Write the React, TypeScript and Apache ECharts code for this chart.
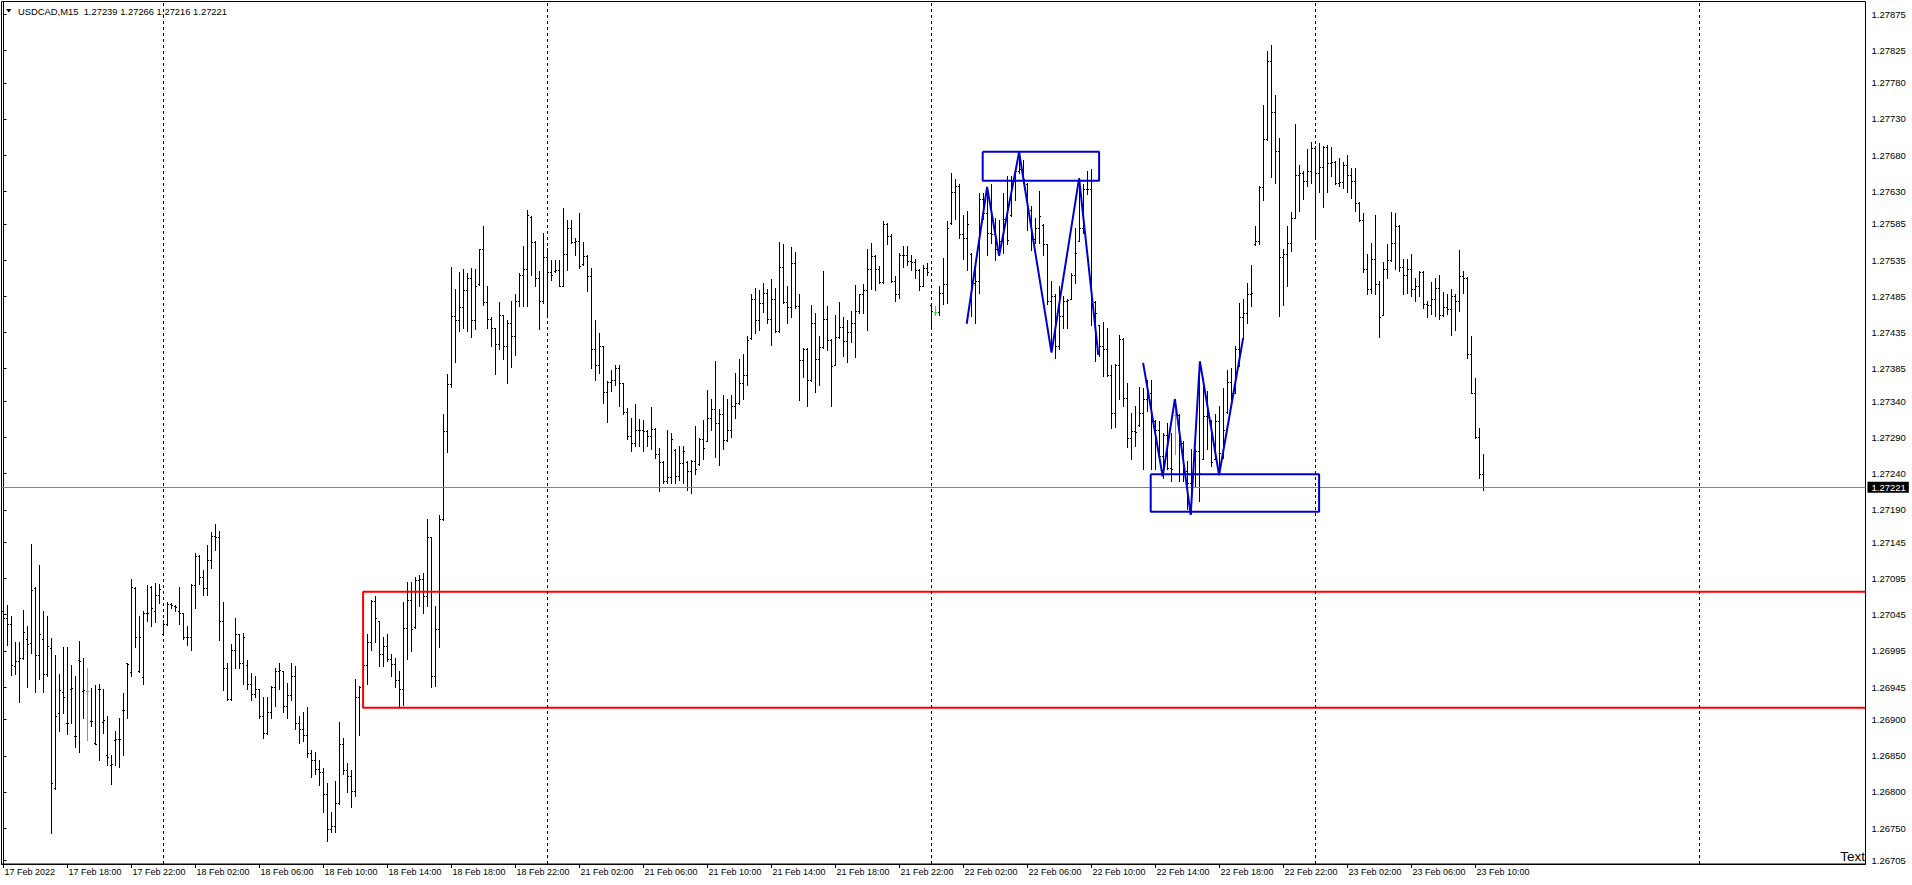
import React, { useEffect, useRef } from 'react';
import * as echarts from 'echarts';

// ---- data (prices in points: 1 point = 0.00001) ----
const symbol = 'USDCAD,M15';

const openPts = [
  127050,127040,127031,126974,126980,126984,127011,127005,127081,126988,
  127011,126963,126998,126805,126908,126938,126895,126942,126876,126982,
  126939,126939,126897,126867,126942,126896,126850,126837,126871,126873,
  126912,126977,126965,127081,126966,126958,127047,127083,127049,127072,
  127018,127031,127059,127057,127049,127046,127014,127013,127086,127126,
  127096,127081,127120,127153,127151,127035,126971,126928,126996,127017,
  126977,126975,126949,126935,126941,126904,126881,126910,126944,126967,
  126966,126918,126933,126960,126894,126887,126878,126853,126844,126831,
  126827,126797,126748,126753,126784,126866,126830,126821,126801,126930,
  126945,126975,127007,127063,127035,126990,127001,126983,126976,126954,
  126941,127026,127065,127027,127092,127093,127070,127151,126960,127025,
  127176,127298,127363,127457,127452,127469,127493,127510,127452,127501,
  127549,127476,127453,127440,127418,127458,127415,127448,127429,127478,
  127514,127522,127594,127559,127510,127478,127539,127518,127519,127520,
  127499,127543,127579,127559,127560,127529,127540,127512,127411,127389,
  127415,127352,127366,127369,127385,127364,127325,127291,127281,127300,
  127299,127298,127291,127301,127266,127255,127229,127235,127272,127236,
  127254,127255,127243,127256,127252,127287,127285,127316,127328,127309,
  127321,127286,127300,127332,127337,127364,127376,127426,127481,127451,
  127475,127489,127453,127481,127436,127525,127476,127470,127530,127471,
  127396,127412,127368,127447,127398,127414,127453,127424,127390,127428,
  127442,127422,127435,127448,127464,127487,127493,127522,127540,127522,
  127504,127584,127568,127505,127487,127542,127541,127533,127532,127520,
  127499,127524,127472,127463,127463,127489,127501,127585,127628,127637,
  127570,127565,127543,127503,127505,127619,127600,127572,127571,127549,
  127560,127591,127596,127643,127657,127660,127640,127603,127564,127579,
  127583,127556,127478,127484,127415,127457,127478,127481,127514,127561,
  127579,127633,127632,127477,127444,127416,127411,127376,127323,127390,
  127425,127344,127289,127298,127306,127323,127343,127350,127312,127300,
  127263,127293,127247,127320,127320,127282,127243,127226,127240,127270,
  127260,127319,127313,127260,127312,127268,127324,127366,127351,127411,
  127455,127461,127488,127556,127560,127635,127701,127809,127739,127685,
  127539,127543,127558,127593,127652,127655,127643,127657,127689,127655,
  127663,127691,127669,127670,127641,127642,127665,127652,127643,127613,
  127589,127522,127494,127536,127501,127459,127522,127535,127558,127582,
  127525,127514,127522,127494,127499,127518,127473,127472,127480,127496,
  127458,127470,127467,127484,127478,127512,127510,127404,127351,127290,
  127239,
];

const highPts = [
  127060,127058,127042,127007,127007,127051,127029,127142,127082,127113,
  127050,127042,127012,126989,126963,127000,127000,126975,126960,127008,
  126984,126970,126943,126947,126949,126942,126904,126850,126884,126902,
  126936,126978,127094,127082,127043,127050,127086,127084,127088,127087,
  127037,127062,127060,127058,127082,127047,127029,127087,127130,127127,
  127106,127140,127158,127169,127160,127062,126977,127004,127040,127018,
  127019,126982,126964,126959,126942,126931,126930,126946,126970,126977,
  126967,126950,126977,126973,126904,126910,126917,126858,126855,126844,
  126832,126812,126772,126814,126896,126874,126839,126830,126956,126946,
  126993,127017,127065,127070,127036,127013,127017,126990,126984,126967,
  127062,127090,127089,127096,127099,127102,127176,127152,127057,127182,
  127322,127377,127525,127495,127518,127522,127516,127523,127522,127550,
  127582,127498,127456,127441,127476,127459,127452,127478,127487,127516,
  127554,127603,127595,127560,127519,127572,127551,127534,127534,127535,
  127606,127589,127590,127565,127600,127559,127541,127524,127451,127433,
  127416,127367,127383,127389,127389,127365,127330,127316,127335,127315,
  127314,127300,127331,127302,127275,127256,127300,127295,127273,127277,
  127277,127256,127258,127305,127289,127314,127355,127343,127395,127328,
  127348,127342,127348,127378,127398,127405,127430,127487,127496,127493,
  127502,127495,127508,127496,127559,127557,127498,127552,127546,127488,
  127413,127413,127472,127461,127429,127519,127471,127425,127458,127476,
  127455,127452,127464,127500,127488,127501,127549,127558,127541,127526,
  127588,127585,127570,127512,127544,127554,127554,127541,127536,127522,
  127527,127530,127473,127471,127498,127537,127588,127654,127647,127639,
  127597,127602,127544,127528,127627,127627,127633,127640,127593,127590,
  127627,127650,127650,127662,127683,127673,127641,127609,127593,127630,
  127584,127557,127505,127487,127498,127484,127480,127517,127579,127648,
  127639,127657,127660,127478,127445,127449,127441,127390,127391,127431,
  127426,127365,127323,127332,127359,127358,127369,127368,127314,127312,
  127296,127309,127296,127343,127322,127284,127256,127273,127273,127385,
  127372,127353,127314,127321,127332,127358,127383,127385,127415,127475,
  127481,127503,127528,127581,127636,127748,127823,127831,127763,127703,
  127550,127581,127601,127723,127665,127657,127688,127697,127692,127696,
  127692,127694,127691,127671,127676,127670,127679,127662,127662,127614,
  127599,127543,127558,127597,127505,127531,127556,127601,127599,127583,
  127536,127536,127543,127510,127519,127519,127478,127504,127510,127513,
  127490,127487,127495,127487,127548,127519,127511,127429,127372,127302,
  127266,
];

const lowPts = [
  127014,127002,126961,126962,126924,126983,126944,126991,126938,126956,
  126937,126959,126743,126804,126884,126909,126880,126894,126862,126855,
  126901,126871,126891,126865,126843,126881,126837,126811,126837,126834,
  126851,126902,126959,127000,126965,126948,127036,127029,127034,127060,
  127016,127030,127054,127049,127031,127011,127003,126995,127053,127087,
  127071,127071,127109,127134,127010,126940,126926,126927,126970,126970,
  126949,126941,126927,126930,126901,126874,126880,126901,126918,126941,
  126910,126901,126927,126887,126867,126870,126848,126820,126824,126809,
  126772,126732,126744,126744,126783,126824,126799,126778,126794,126878,
  126939,126948,126996,127006,126973,126973,126981,126960,126944,126918,
  126920,126983,126994,127026,127057,127046,127057,126944,126946,126999,
  127175,127269,127359,127393,127436,127441,127436,127428,127439,127500,
  127472,127441,127416,127377,127412,127397,127365,127387,127403,127471,
  127471,127471,127513,127498,127439,127475,127459,127507,127518,127498,
  127498,127520,127558,127541,127524,127528,127491,127385,127369,127378,
  127337,127310,127354,127362,127332,127321,127287,127270,127277,127278,
  127270,127277,127273,127261,127215,127226,127226,127226,127226,127231,
  127226,127216,127213,127239,127251,127259,127284,127300,127262,127251,
  127273,127284,127290,127316,127336,127343,127361,127425,127433,127437,
  127462,127447,127417,127435,127435,127475,127448,127456,127468,127341,
  127373,127332,127367,127352,127362,127413,127410,127332,127389,127426,
  127402,127393,127421,127401,127461,127461,127438,127494,127493,127502,
  127503,127557,127504,127478,127482,127525,127528,127521,127510,127493,
  127498,127514,127441,127458,127459,127474,127475,127584,127591,127565,
  127536,127520,127457,127448,127489,127591,127542,127558,127535,127542,
  127544,127557,127595,127618,127655,127641,127576,127548,127558,127558,
  127542,127473,127415,127399,127411,127441,127441,127480,127502,127560,
  127572,127625,127445,127395,127402,127374,127374,127302,127304,127342,
  127333,127276,127260,127277,127305,127246,127326,127245,127245,127259,
  127233,127245,127229,127266,127229,127229,127190,127185,127222,127201,
  127259,127273,127250,127259,127240,127261,127323,127342,127350,127388,
  127425,127447,127471,127555,127556,127617,127700,127649,127641,127457,
  127472,127499,127547,127592,127602,127619,127636,127641,127565,127628,
  127608,127628,127650,127640,127636,127634,127628,127620,127602,127588,
  127518,127487,127489,127487,127428,127458,127510,127533,127522,127519,
  127487,127489,127485,127478,127484,127468,127455,127460,127457,127453,
  127457,127460,127431,127438,127464,127489,127399,127350,127289,127233,
  127216,
];

const closePts = [
  127040,127031,126975,126980,126984,127020,127004,127079,126988,127017,
  126963,127001,126812,126904,126940,126930,126894,126943,126877,126981,
  126940,126939,126898,126866,126941,126899,126848,126838,126872,126872,
  126913,126976,127082,127014,127014,127047,127046,127053,127072,127080,
  127031,127059,127058,127055,127047,127014,127013,127086,127126,127096,
  127081,127120,127153,127151,127035,126971,126928,126996,127017,126977,
  127014,126949,126935,126941,126904,126881,126910,126944,126967,126968,
  126918,126933,126960,126894,126887,126878,126853,126844,126831,126827,
  126797,126748,126753,126784,126866,126830,126821,126801,126930,126945,
  126975,127007,127063,127040,126990,127001,126983,126976,126954,126941,
  127026,127065,127025,127092,127093,127070,127151,126960,127025,127176,
  127298,127363,127457,127452,127469,127493,127510,127452,127498,127549,
  127476,127453,127440,127418,127458,127415,127448,127429,127478,127514,
  127522,127597,127559,127510,127478,127539,127518,127513,127520,127499,
  127543,127579,127559,127560,127526,127540,127512,127411,127389,127415,
  127352,127366,127369,127385,127364,127325,127291,127281,127300,127299,
  127298,127291,127301,127266,127255,127229,127235,127287,127236,127254,
  127270,127243,127256,127246,127287,127275,127316,127328,127309,127321,
  127286,127300,127332,127337,127364,127376,127424,127481,127451,127475,
  127489,127453,127481,127436,127525,127476,127470,127530,127471,127396,
  127412,127368,127447,127398,127414,127453,127424,127388,127428,127442,
  127422,127435,127448,127464,127487,127493,127522,127540,127522,127504,
  127584,127568,127505,127487,127542,127541,127533,127532,127520,127499,
  127524,127518,127464,127463,127489,127501,127579,127628,127637,127570,
  127565,127584,127503,127505,127619,127600,127572,127571,127549,127560,
  127591,127562,127643,127657,127660,127646,127603,127564,127579,127595,
  127556,127478,127484,127415,127457,127478,127479,127514,127544,127579,
  127633,127632,127480,127461,127416,127411,127376,127323,127390,127425,
  127344,127289,127298,127297,127323,127343,127350,127312,127300,127263,
  127293,127247,127245,127320,127282,127243,127226,127240,127270,127240,
  127319,127318,127255,127312,127268,127300,127366,127351,127411,127455,
  127461,127488,127489,127560,127635,127701,127809,127739,127685,127539,
  127543,127558,127593,127652,127655,127643,127657,127689,127655,127663,
  127691,127669,127670,127641,127642,127665,127652,127643,127613,127589,
  127522,127494,127536,127501,127456,127522,127535,127558,127582,127525,
  127514,127522,127494,127499,127518,127473,127472,127480,127496,127458,
  127470,127467,127484,127478,127512,127510,127404,127351,127290,127239,
  127221,
];

// time axis: one slot per 15-minute bar (first bar = 17 Feb 2022 14:00), with empty slots to the right
const slotCount = 466;
const xTickBars = [0, 16, 32, 48, 64, 80, 96, 112, 128, 144, 160, 176, 192, 208, 224, 240, 256, 272, 288, 304, 320, 336, 352, 368];
const xTickLabels = [
  '17 Feb 2022', '17 Feb 18:00', '17 Feb 22:00', '18 Feb 02:00', '18 Feb 06:00', '18 Feb 10:00',
  '18 Feb 14:00', '18 Feb 18:00', '18 Feb 22:00', '21 Feb 02:00', '21 Feb 06:00', '21 Feb 10:00',
  '21 Feb 14:00', '21 Feb 18:00', '21 Feb 22:00', '22 Feb 02:00', '22 Feb 06:00', '22 Feb 10:00',
  '22 Feb 14:00', '22 Feb 18:00', '22 Feb 22:00', '23 Feb 02:00', '23 Feb 06:00', '23 Feb 10:00',
];
const dayGridBars = [40, 136, 232, 328, 424];

const priceTicks = [
  1.27875, 1.27825, 1.2778, 1.2773, 1.2768, 1.2763, 1.27585, 1.27535, 1.27485, 1.27435, 1.27385,
  1.2734, 1.2729, 1.2724, 1.2719, 1.27145, 1.27095, 1.27045, 1.26995, 1.26945, 1.269, 1.2685,
  1.268, 1.2675, 1.26705,
];
const priceMin = 1.267005;
const priceMax = 1.278923;

// drawn objects (bar index, price)
const redZone = [[465.5, 1.270767], [89.9, 1.270767], [89.9, 1.269164], [465.5, 1.269164]];
const blueBoxTop = [[244.8, 1.276847], [273.9, 1.276847], [273.9, 1.276446], [244.8, 1.276446], [244.8, 1.276847]];
const blueBoxBottom = [[286.8, 1.272389], [328.9, 1.272389], [328.9, 1.271873], [286.8, 1.271873], [286.8, 1.272389]];
const zigzagTop = [[240.8, 1.27447], [245.9, 1.27636], [248.9, 1.27541], [253.9, 1.27684], [262.0, 1.27407], [268.9, 1.27648], [273.7, 1.27404]];
const zigzagBottom = [[284.9, 1.27393], [289.8, 1.27236], [292.85, 1.27343], [296.8, 1.27183], [299.1, 1.27395], [303.9, 1.27238], [309.9, 1.27427]];

const FONT = '"Liberation Sans", Arial, sans-serif';
const BLUE = '#0000CD';

export default function App() {
  const ref = useRef<HTMLDivElement>(null);

  useEffect(() => {
    document.body.style.margin = '0';
    if (!ref.current) return;
    const chart = echarts.init(ref.current, undefined, { renderer: 'svg' });

    const barData = closePts.map((c, i) => [i, openPts[i] / 1e5, highPts[i] / 1e5, lowPts[i] / 1e5, c / 1e5]);
    const last = barData.length - 1;
    const lastClose = closePts[last] / 1e5;
    const fmt = (p: number) => (p / 1e5).toFixed(5);
    const titleText = `${symbol}  ${fmt(openPts[last])} ${fmt(highPts[last])} ${fmt(lowPts[last])} ${fmt(closePts[last])}`;

    const renderItem = (params: any, api: any) => {
      const k = api.value(0);
      const o = api.value(1);
      const h = api.value(2);
      const l = api.value(3);
      const c = api.value(4);
      const pH = api.coord([k, h]);
      const pL = api.coord([k, l]);
      const pO = api.coord([k, o]);
      const pC = api.coord([k, c]);
      const x = Math.round(pH[0] - 0.5) + 0.5;
      const yH = Math.floor(pH[1]);
      const yL = Math.floor(pL[1]) + 1;
      const yO = Math.floor(pO[1]) + 0.5;
      const yC = Math.floor(pC[1]) + 0.5;
      const color = o === c ? '#22DD22' : '#000000';
      const st = { stroke: color, lineWidth: 1 };
      return {
        type: 'group',
        children: [
          { type: 'line', shape: { x1: x, y1: yH, x2: x, y2: yL }, style: st },
          { type: 'line', shape: { x1: x - 1.5, y1: yO, x2: x - 0.5, y2: yO }, style: st },
          { type: 'line', shape: { x1: x + 0.5, y1: yC, x2: x + 1.5, y2: yC }, style: st },
        ],
      };
    };

    const option: any = {
      animation: false,
      backgroundColor: '#FFFFFF',
      grid: {
        left: 1.5, top: 1.5, width: 1864, height: 862.5,
        show: true, borderColor: '#000', borderWidth: 1, backgroundColor: 'transparent',
      },
      xAxis: {
        type: 'value', min: -0.5, max: slotCount - 0.5,
        axisLine: { show: true, onZero: false, lineStyle: { color: '#000', width: 1 } },
        axisTick: { show: true, customValues: xTickBars, length: 4, lineStyle: { color: '#000' } },
        axisLabel: {
          show: true, customValues: xTickBars,
          formatter: (v: number) => xTickLabels[xTickBars.indexOf(Math.round(v))] ?? '',
          align: 'left', color: '#000', fontSize: 9, fontFamily: FONT, margin: 3, padding: [0, 0, 0, 1],
        },
        splitLine: { show: false },
      },
      yAxis: {
        type: 'value', position: 'right', min: priceMin, max: priceMax, scale: true,
        axisLine: { show: true, lineStyle: { color: '#000', width: 1 } },
        axisTick: { show: true, customValues: priceTicks, length: 3, lineStyle: { color: '#000' } },
        axisLabel: {
          show: true, customValues: priceTicks, formatter: (v: number) => v.toFixed(5),
          color: '#000', fontSize: 9.5, fontFamily: FONT, margin: 6,
        },
        splitLine: { show: false },
      },
      graphic: [
        { type: 'polygon', shape: { points: [[6, 9], [11.5, 9], [8.75, 12.5]] }, style: { fill: '#000' }, z: 10 },
        {
          type: 'text', x: 18, y: 11, z: 10,
          style: { text: titleText, font: `9.4px ${FONT}`, fill: '#000', verticalAlign: 'middle', align: 'left' },
        },
        {
          type: 'text', x: 1865, y: 856, z: 10,
          style: { text: 'Text', font: `13.5px ${FONT}`, fill: '#000', verticalAlign: 'middle', align: 'right' },
        },
      ],
      series: [
        {
          type: 'line', data: [], z: 1, silent: true,
          markLine: {
            silent: true, symbol: ['none', 'none'], animation: false, precision: 6,
            label: { show: false },
            lineStyle: { color: '#000', width: 1, type: [3, 3] },
            data: dayGridBars.map((b) => ({ xAxis: b })),
          },
        },
        {
          type: 'custom', name: 'bars', z: 2, clip: true, silent: true,
          renderItem, encode: { x: 0, y: [1, 2, 3, 4] }, data: barData,
        },
        {
          type: 'line', data: [], z: 3, silent: true,
          markLine: {
            silent: true, symbol: ['none', 'none'], animation: false, precision: 6,
            lineStyle: { color: '#778899', width: 1, type: 'solid' },
            label: {
              show: true, position: 'end', distance: 2, formatter: lastClose.toFixed(5),
              color: '#FFFFFF', backgroundColor: '#000000', padding: [1, 3, 0, 4],
              fontSize: 9.5, fontFamily: FONT,
            },
            data: [{ yAxis: lastClose }],
          },
        },
        {
          type: 'line', data: redZone, z: 4, silent: true, symbol: 'none', showSymbol: false,
          lineStyle: { color: '#FF0000', width: 2 },
        },
        {
          type: 'line', data: blueBoxTop, z: 5, silent: true, symbol: 'none', showSymbol: false,
          lineStyle: { color: BLUE, width: 2 },
        },
        {
          type: 'line', data: blueBoxBottom, z: 5, silent: true, symbol: 'none', showSymbol: false,
          lineStyle: { color: BLUE, width: 2 },
        },
        {
          type: 'line', data: zigzagTop, z: 5, silent: true, symbol: 'none', showSymbol: false,
          lineStyle: { color: BLUE, width: 2 },
        },
        {
          type: 'line', data: zigzagBottom, z: 5, silent: true, symbol: 'none', showSymbol: false,
          lineStyle: { color: BLUE, width: 2 },
        },
      ],
    };

    chart.setOption(option);
    return () => chart.dispose();
  }, []);

  return <div ref={ref} style={{ width: 1912, height: 885 }} />;
}
